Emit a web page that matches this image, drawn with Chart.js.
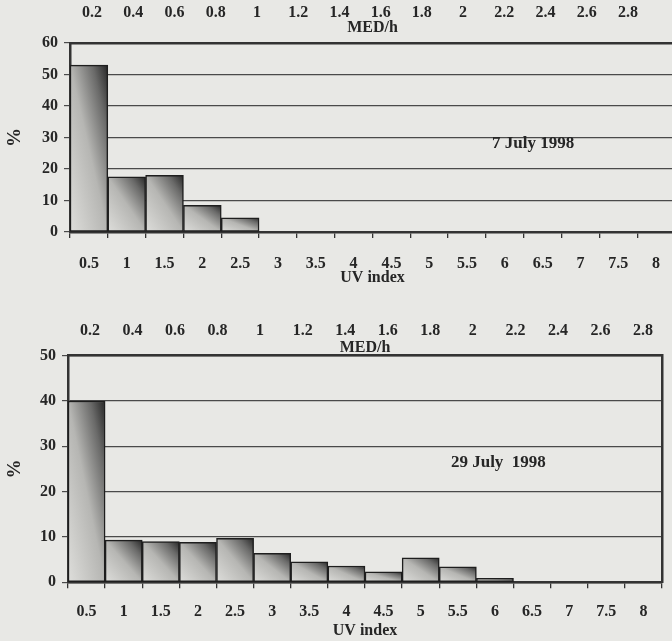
<!DOCTYPE html>
<html>
<head>
<meta charset="utf-8">
<script src="https://cdn.jsdelivr.net/npm/chart.js@4.4.1/dist/chart.umd.min.js"></script>
<style>
  html, body { margin: 0; padding: 0; background: #e8e8e5; overflow: hidden; width: 672px; height: 641px; }
  canvas { position: absolute; left: 0; }
  #topChart { top: 0; }
  #bottomChart { top: 290px; }
</style>
</head>
<body>
<canvas id="topChart" width="680" height="290"></canvas>
<canvas id="bottomChart" width="672" height="351"></canvas>
<script>
// UV index bins (bottom axis) and MED/h labels (top axis)
var uvLabels = ["0.5", "1", "1.5", "2", "2.5", "3", "3.5", "4", "4.5", "5", "5.5", "6", "6.5", "7", "7.5", "8"];
var medTicks = [0.2, 0.4, 0.6, 0.8, 1, 1.2, 1.4, 1.6, 1.8, 2, 2.2, 2.4, 2.6, 2.8];

// frequency in % for each UV index bin
var july7 = [53, 17.5, 18, 8.5, 4.5, 0, 0, 0, 0, 0, 0, 0, 0, 0, 0, 0];
var july29 = [40, 9.3, 9, 8.8, 9.7, 6.4, 4.5, 3.6, 2.3, 5.4, 3.4, 0.9, 0, 0, 0, 0];

var ink = "#262626";
var serif = "'Liberation Serif', 'Times New Roman', serif";

// diagonal gradient per bar, light bottom-left to dark top-right
function barFill(ctx) {
  var chart = ctx.chart;
  if (!chart.chartArea) return "#888";
  var xs = chart.scales.x, ys = chart.scales.y;
  var half = (xs.right - xs.left) / uvLabels.length / 2;
  var cx = xs.getPixelForValue(ctx.dataIndex);
  var l = cx - half, r = cx + half;
  var b = ys.getPixelForValue(0), t = ys.getPixelForValue(ctx.raw || 0);
  var w = r - l, h = b - t;
  if (h < 1) h = 1;
  var k = 2 * w * h / (w * w + h * h);
  var g = chart.ctx.createLinearGradient(l, b, l + h * k, b - w * k);
  g.addColorStop(0, "#dededb");
  g.addColorStop(0.5, "#b6b6b3");
  g.addColorStop(0.8, "#6a6a69");
  g.addColorStop(1, "#262626");
  return g;
}

var notePlugin = {
  id: "note",
  afterDraw: function(chart, args, opts) {
    var c = chart.ctx;
    c.save();
    c.font = "bold 17px " + serif;
    c.fillStyle = ink;
    c.textAlign = "center";
    c.textBaseline = "middle";
    c.fillText(opts.text, chart.scales.x2.getPixelForValue(opts.x), chart.scales.y.getPixelForValue(opts.y));
    c.restore();
  }
};

function makeChart(id, values, cfg) {
  return new Chart(id, {
    type: "bar",
    data: {
      labels: uvLabels,
      datasets: [{
        data: values,
        backgroundColor: barFill,
        borderColor: "#1e1e1e",
        borderWidth: 1.5,
        borderSkipped: false,
        barPercentage: 1,
        categoryPercentage: 1,
        xAxisID: "x",
        yAxisID: "y"
      }]
    },
    options: {
      responsive: false,
      animation: false,
      layout: { padding: { left: 0, right: cfg.padRight, top: 0, bottom: 0 } },
      plugins: {
        legend: { display: false },
        tooltip: { enabled: false },
        note: { text: cfg.note, x: cfg.noteX, y: cfg.noteY }
      },
      scales: {
        x: {
          position: "bottom",
          grid: { drawOnChartArea: false, offset: true, color: "#333", lineWidth: 1.3, tickLength: 6 },
          border: { color: "#333", width: 2.5 },
          ticks: { color: ink, font: { family: serif, size: 16, weight: "bold" }, padding: cfg.xPad, maxRotation: 0, autoSkip: false },
          title: { display: true, text: "UV index", color: ink, font: { family: serif, size: 16, weight: "bold" }, padding: { top: 0, bottom: cfg.xTitlePad } },
          afterFit: function(s) { s.height = cfg.xHeight; }
        },
        x2: {
          type: "linear",
          position: "top",
          offset: false,
          bounds: "data",
          min: cfg.medMin,
          max: cfg.medMax,
          afterBuildTicks: function(s) {
            s.ticks = medTicks.map(function(v) { return { value: v }; });
          },
          grid: { drawOnChartArea: false, drawTicks: false, offset: false },
          border: { color: "#333", width: 2.5 },
          ticks: {
            color: ink, font: { family: serif, size: 16, weight: "bold" }, padding: cfg.topPad, maxRotation: 0, autoSkip: false,
            callback: function(v) { return String(Math.round(v * 10) / 10); }
          },
          title: { display: true, text: "MED/h", color: ink, font: { family: serif, size: 16, weight: "bold" }, padding: { top: cfg.medTitlePad, bottom: 0 } },
          afterFit: function(s) { s.height = cfg.topHeight; }
        },
        y: {
          min: 0,
          max: cfg.yMax,
          ticks: { stepSize: 10, color: ink, font: { family: serif, size: 16, weight: "bold" }, padding: 6 },
          grid: { color: "#4a4a4a", lineWidth: 1.2, tickLength: 6 },
          border: { color: "#333", width: 2.5 },
          title: { display: true, text: "%", color: ink, font: { family: serif, size: 19, weight: "bold" }, padding: { top: 4, bottom: 0 } },
          afterFit: function(s) { s.width = cfg.yWidth; }
        },
        yr: {
          position: "right",
          min: 0,
          max: cfg.yMax,
          ticks: { display: false },
          grid: { drawOnChartArea: false, drawTicks: false },
          border: { color: "#333", width: 2.5 },
          afterFit: function(s) { s.width = 0; }
        }
      }
    },
    plugins: [notePlugin]
  });
}

makeChart("topChart", july7, {
  padRight: 5, yWidth: 70, yMax: 60,
  xHeight: 58, xPad: 16, xTitlePad: 3,
  topHeight: 43, topPad: 21, medTitlePad: 18,
  medMin: 0.093, medMax: 3.028,
  note: "7 July 1998", noteX: 2.34, noteY: 28.2
});

makeChart("bottomChart", july29, {
  padRight: 10, yWidth: 68, yMax: 50,
  xHeight: 58.7, xPad: 14, xTitlePad: 1,
  topHeight: 65.7, topPad: 15, medTitlePad: 48,
  medMin: 0.097, medMax: 2.889,
  note: "29 July  1998", noteX: 2.12, noteY: 26.3
});
</script>
</body>
</html>
